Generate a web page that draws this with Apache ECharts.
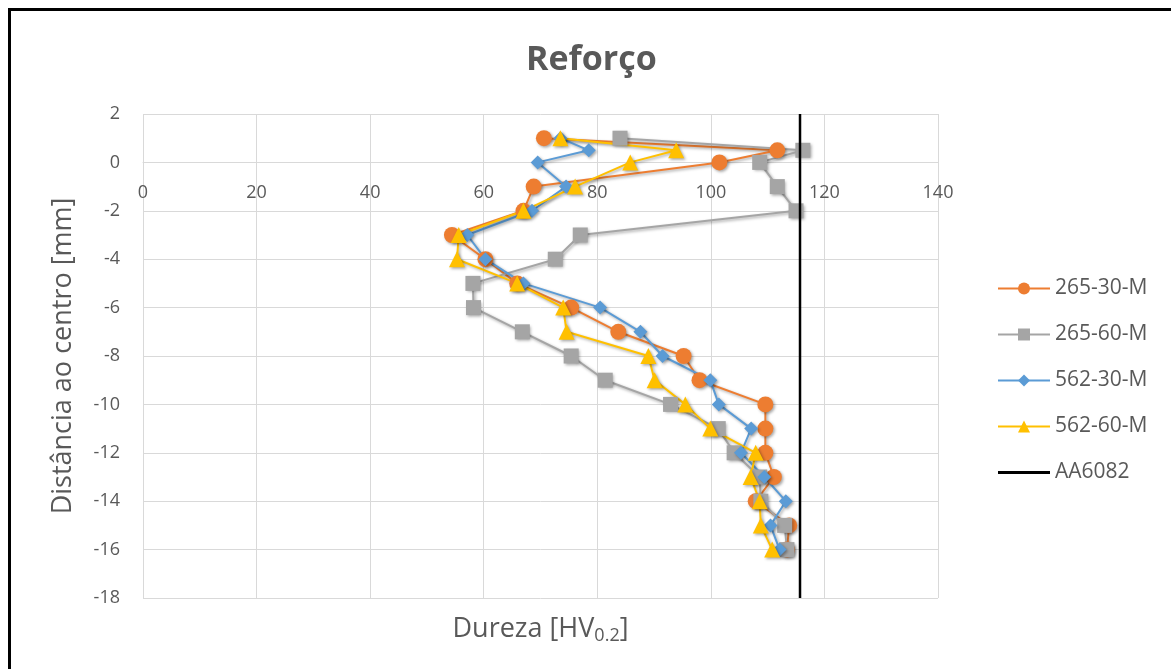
<!DOCTYPE html>
<html>
<head>
<meta charset="utf-8">
<script src="https://cdn.jsdelivr.net/npm/echarts@6/dist/echarts.min.js"></script>
<style>
html,body{margin:0;padding:0;background:#fff;}
#chart{width:1171px;height:669px;}
</style>
</head>
<body>
<div id="chart"></div>
<script>
// Depth (Distância ao centro, mm) for each measurement
const depth = [1, 0.5, 0, -1, -2, -3, -4, -5, -6, -7, -8, -9, -10, -11, -12, -13, -14, -15, -16];
// Hardness (HV0.2) per series
const s265_30 = [70.6, 111.7, 101.5, 68.8, 67.0, 54.4, 60.3, 65.9, 75.4, 83.7, 95.2, 98.0, 109.6, 109.6, 109.6, 111.1, 107.9, 113.8, 113.4];
const s265_60 = [84.0, 116.2, 108.6, 111.7, 115.0, 77.0, 72.6, 58.1, 58.2, 66.8, 75.4, 81.4, 92.9, 101.3, 104.1, 108.6, 108.8, 113.0, 113.4];
const s562_30 = [73.5, 78.5, 69.5, 74.5, 68.5, 57.1, 60.3, 67.0, 80.5, 87.6, 91.5, 99.9, 101.4, 107.1, 105.3, 109.4, 113.2, 110.5, 112.1];
const s562_60 = [73.5, 93.9, 85.8, 76.1, 67.0, 55.6, 55.3, 65.9, 74.0, 74.6, 89.0, 90.1, 95.5, 99.9, 107.9, 107.0, 108.6, 108.8, 110.8];
// Reference line AA6082
const aa6082X = [115.7, 115.7];
const aa6082Y = [2, -18];

const seriesNames = ['265-30-M', '265-60-M', '562-30-M', '562-60-M', 'AA6082'];
const xTicks = {min: 0, max: 140, interval: 20};
const yTicks = {min: -18, max: 2, interval: 2};

const FONT = '"Open Sans", sans-serif';
const TXT = '#595959';
const shadow = {shadowColor: 'rgba(0,0,0,0.35)', shadowBlur: 3, shadowOffsetX: 1.5, shadowOffsetY: 1.5};

const GRID = {left: 143, right: 233, top: 114, bottom: 71};
const plotH = 669 - GRID.top - GRID.bottom;
// place the x axis (labels) at depth 0, as in the original
const zeroOffset = -plotH * (0 - yTicks.min) / (yTicks.max - yTicks.min);

function pairs(xs, ys) { return xs.map((v, i) => [v, ys[i]]); }

function mk(name, xs, color, symbol, size) {
  return {
    name: name, type: 'line', data: pairs(xs, depth),
    symbol: symbol, symbolSize: size,
    lineStyle: Object.assign({color: color, width: 2}, shadow),
    itemStyle: Object.assign({color: color}, shadow),
    emphasis: {disabled: true}, animation: false, z: 3
  };
}

const chart = echarts.init(document.getElementById('chart'), null, {renderer: 'canvas'});
chart.setOption({
  backgroundColor: '#fff',
  animation: false,
  title: {
    text: 'Reforço', left: 521, top: 38,
    textStyle: {fontFamily: FONT, fontSize: 34, fontWeight: 'bold', color: TXT}
  },
  legend: {
    orient: 'vertical', left: 992, top: 273,
    itemWidth: 52, itemHeight: 15, itemGap: 25,
    data: seriesNames.slice(0, 4).concat([{name: seriesNames[4], icon: 'path://M0,0 L52,0 L52,3 L0,3 Z'}]),
    textStyle: {fontFamily: FONT, fontSize: 21, color: TXT}
  },
  grid: Object.assign({containLabel: false}, GRID),
  xAxis: [{
    type: 'value', position: 'bottom', offset: zeroOffset,
    min: xTicks.min, max: xTicks.max, interval: xTicks.interval,
    axisLine: {show: true, onZero: false, lineStyle: {color: '#d9d9d9', width: 1}},
    axisTick: {show: false},
    axisLabel: {fontFamily: FONT, fontSize: 18, color: TXT, margin: 21},
    splitLine: {show: true, lineStyle: {color: '#d9d9d9', width: 1}}
  }, {
    type: 'value', position: 'bottom', min: xTicks.min, max: xTicks.max, interval: xTicks.interval,
    axisLine: {show: false, onZero: false}, axisTick: {show: false}, axisLabel: {show: false},
    splitLine: {show: false},
    name: '{a|Dureza [HV}{s|0.2}{a|]}', nameLocation: 'middle', nameGap: 15,
    nameTextStyle: {
      rich: {
        a: {fontFamily: FONT, fontSize: 27, color: TXT},
        s: {fontFamily: FONT, fontSize: 18, color: TXT, verticalAlign: 'bottom', padding: [14, 0, 0, 0]}
      }
    }
  }],
  yAxis: {
    type: 'value', min: yTicks.min, max: yTicks.max, interval: yTicks.interval,
    axisLine: {show: false, onZero: false},
    axisTick: {show: false},
    axisLabel: {fontFamily: FONT, fontSize: 18, color: TXT, margin: 23},
    splitLine: {show: true, lineStyle: {color: '#d9d9d9', width: 1}},
    name: 'Distância ao centro [mm]', nameLocation: 'middle', nameGap: 66,
    nameTextStyle: {fontFamily: FONT, fontSize: 27, color: TXT}
  },
  graphic: [{
    type: 'rect', silent: true, z: 100,
    shape: {x: 9.5, y: 9.5, width: 1300, height: 1000},
    style: {fill: 'none', stroke: '#000', lineWidth: 3}
  }],
  series: [
    mk(seriesNames[0], s265_30, '#ED7D31', 'circle', 16),
    mk(seriesNames[1], s265_60, '#A5A5A5', 'rect', 15),
    mk(seriesNames[2], s562_30, '#5B9BD5', 'diamond', 14),
    mk(seriesNames[3], s562_60, '#FFC000', 'triangle', 16),
    {
      name: seriesNames[4], type: 'line', data: pairs(aa6082X, aa6082Y),
      symbol: 'none', lineStyle: {color: '#000', width: 2.5},
      itemStyle: {color: '#000'}, emphasis: {disabled: true}, z: 4
    }
  ]
});
</script>
</body>
</html>
